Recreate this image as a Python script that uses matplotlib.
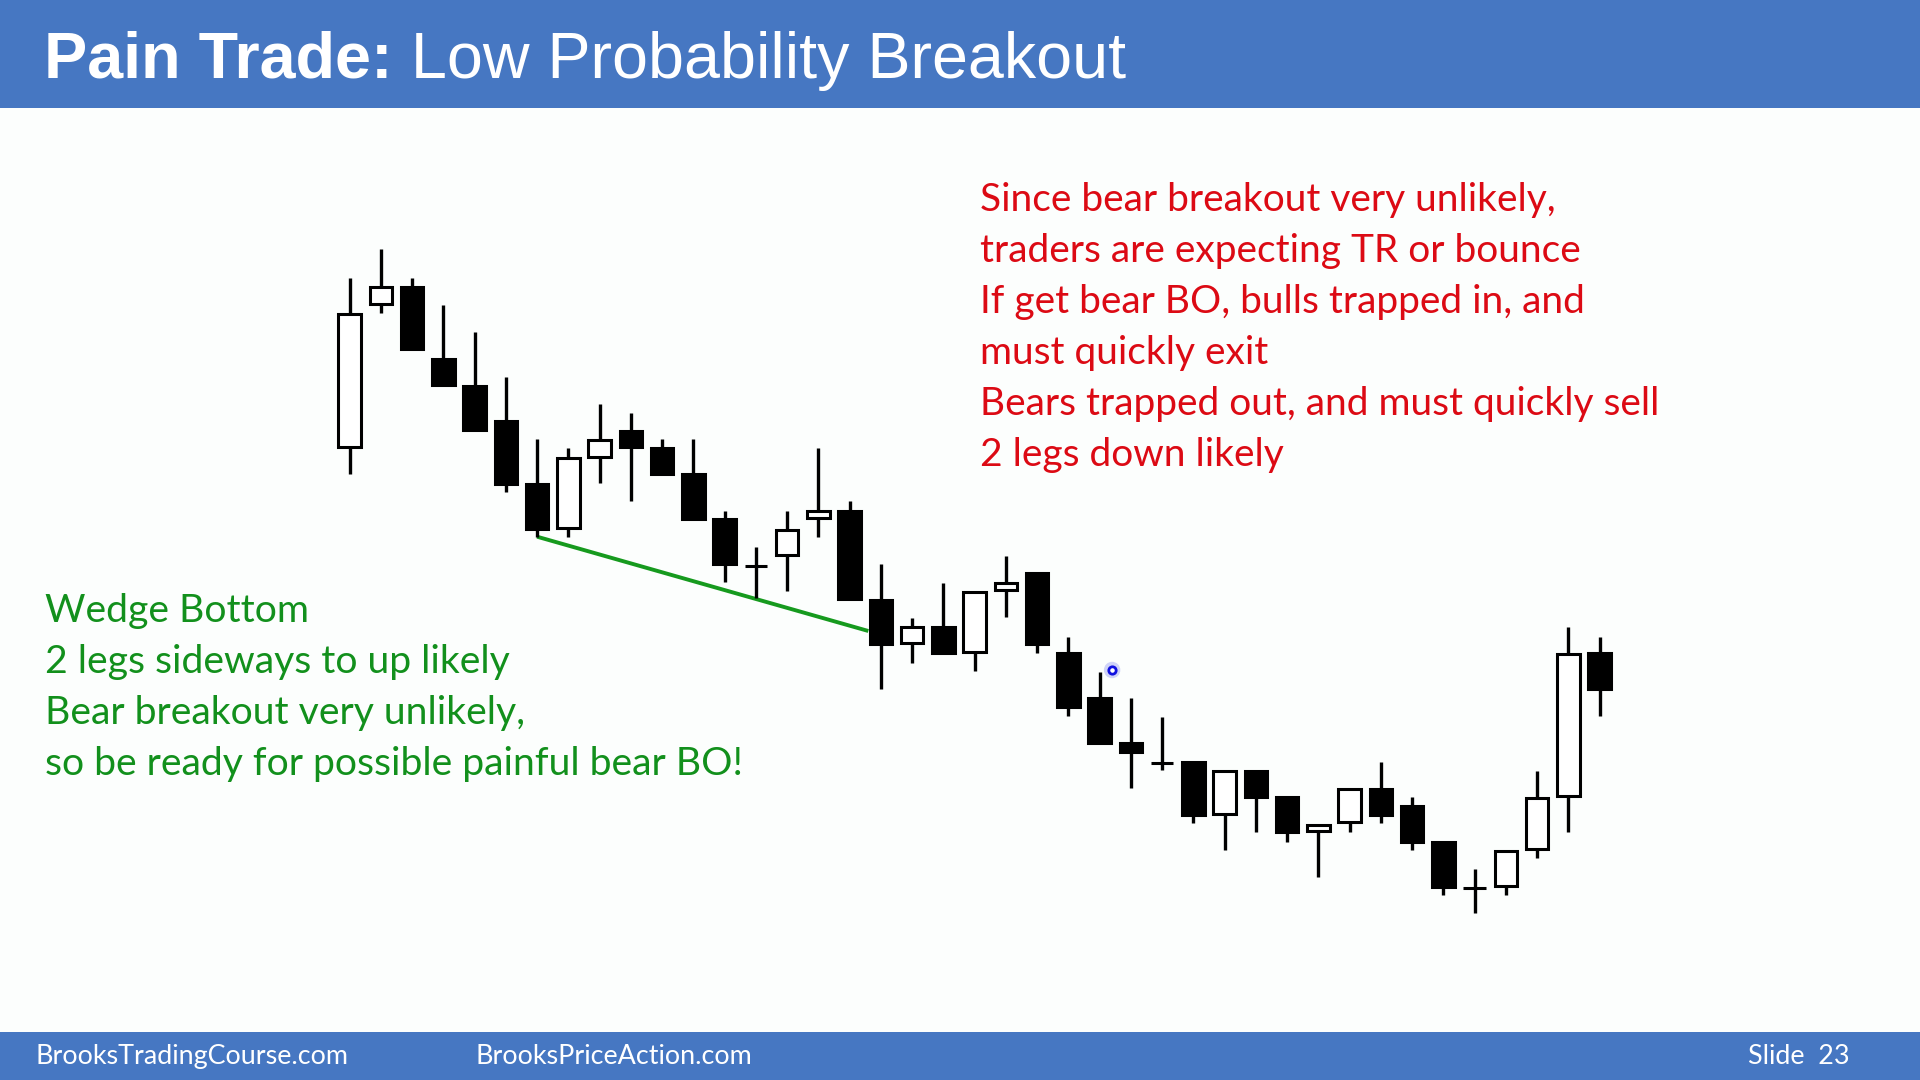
import matplotlib.pyplot as plt
from matplotlib.patches import Rectangle

# candle prices (arbitrary price units)
opens = [553.3, 696.0, 712.7, 641.0, 614.3, 579.0, 515.7, 472.3, 543.3, 569.3,
         552.3, 525.7, 480.7, 434.3, 445.0, 481.5, 489.3, 400.0, 357.3, 373.3,
         348.3, 410.0, 426.7, 346.7, 301.7, 256.7, 237.0, 237.7, 186.0, 229.3,
         202.7, 169.0, 177.7, 211.0, 194.3, 157.7, 111.7, 114.0, 151.0, 204.3,
         346.7]
highs = [721.7, 751.0, 721.7, 694.7, 668.0, 623.0, 560.7, 552.3, 596.3, 587.3,
         560.7, 560.7, 489.0, 453.3, 489.3, 552.3, 499.0, 435.7, 381.7, 417.3,
         408.3, 444.0, 426.7, 363.3, 328.3, 301.7, 283.3, 237.7, 229.0, 229.3,
         202.7, 175.3, 210.7, 238.0, 202.7, 157.7, 130.7, 149.0, 229.3, 373.3,
         363.3]
lows = [526.0, 686.7, 650.7, 615.0, 570.0, 507.7, 463.3, 463.3, 516.7, 499.3,
        526.0, 481.0, 418.3, 401.7, 409.3, 463.0, 401.0, 310.7, 337.3, 347.3,
        329.0, 382.7, 347.3, 284.0, 256.7, 211.7, 230.0, 176.7, 150.0, 168.3,
        158.3, 123.3, 168.3, 176.7, 150.0, 105.0, 86.7, 105.0, 141.7, 168.3,
        284.0]
closes = [685.7, 712.7, 650.7, 615.0, 570.0, 516.0, 471.0, 542.0, 560.3, 552.7,
          526.0, 481.0, 436.0, 434.3, 470.0, 488.5, 401.0, 355.7, 372.7, 347.3,
          408.3, 416.7, 355.7, 292.7, 256.7, 248.3, 237.0, 185.0, 229.0, 203.3,
          168.3, 175.3, 210.7, 185.0, 158.3, 113.3, 111.7, 149.0, 202.0, 346.0,
          310.7]

# wedge bottom trend line (bar index, price)
wedge_x = [6.0, 16.6]
wedge_y = [463.3, 369.0]

# presenter's pointer on the slide
pointer_x = 24.4
pointer_y = 330.0

title_bold = "Pain Trade:"
title_rest = " Low Probability Breakout"

red_notes = ["Since bear breakout very unlikely,",
             "traders are expecting TR or bounce",
             "If get bear BO, bulls trapped in, and",
             "must quickly exit",
             "Bears trapped out, and must quickly sell",
             "2 legs down likely"]
green_notes = ["Wedge Bottom",
               "2 legs sideways to up likely",
               "Bear breakout very unlikely,",
               "so be ready for possible painful bear BO!"]

footer_left = "BrooksTradingCourse.com"
footer_mid = "BrooksPriceAction.com"
footer_right = "Slide  23"

BLUE = "#4677C2"
RED = "#DC0A14"
GREEN = "#12901C"
W, H = 1920, 1080

fig = plt.figure(figsize=(19.2, 10.8), dpi=100, facecolor="#FCFEFD")

# header and footer bands
fig.patches.append(Rectangle((0, 1 - 108 / H), 1, 108 / H, transform=fig.transFigure,
                             facecolor=BLUE, edgecolor="none", zorder=0))
fig.patches.append(Rectangle((0, 0), 1, 48 / H, transform=fig.transFigure,
                             facecolor=BLUE, edgecolor="none", zorder=0))

# title: bold part then regular part right after it
t1 = fig.text(44 / W, 1 - 78 / H, title_bold, color="white", fontsize=46.5,
              fontweight="bold", family="Liberation Sans", va="baseline")
renderer = fig.canvas.get_renderer()
bb = t1.get_window_extent(renderer)
fig.text(bb.x1 / W, 1 - 78 / H, title_rest, color="white", fontsize=46.5,
         family="Liberation Sans", va="baseline")

# candle chart
ax = fig.add_axes([318.35 / W, 140 / H, 1312.5 / W, 710 / H])
ax.set_xlim(-1, 41)
ax.set_ylim(60, 770)
ax.axis("off")

idx = list(range(len(opens)))
ax.vlines(idx, lows, highs, color="black", linewidth=2.4, zorder=1)
bottoms = [min(o, c) for o, c in zip(opens, closes)]
heights = [abs(c - o) for o, c in zip(opens, closes)]
faces = ["white" if c >= o else "black" for o, c in zip(opens, closes)]
ax.bar(idx, heights, bottom=bottoms, width=0.72, color=faces,
       edgecolor="black", linewidth=2.2, zorder=2)

ax.plot(wedge_x, wedge_y, color="#169A1E", linewidth=2.8, zorder=0,
        solid_capstyle="butt")

ax.scatter([pointer_x], [pointer_y], s=140, color="#9AA0F0", alpha=0.45,
           edgecolors="none", zorder=3)
ax.scatter([pointer_x], [pointer_y], s=28, facecolors="white",
           edgecolors="#1010E0", linewidths=2.0, zorder=4)

# notes
for i, line in enumerate(red_notes):
    fig.text(980 / W, 1 - (211 + 51 * i) / H, line, color=RED, fontsize=28,
             family="Lato", va="baseline")
for i, line in enumerate(green_notes):
    fig.text(45 / W, 1 - (622 + 51 * i) / H, line, color=GREEN, fontsize=28.2,
             family="Lato", va="baseline")

fig.text(35 / W, 1 - 1064 / H, footer_left, color="white", fontsize=19.4,
         family="Lato", va="baseline")
fig.text(475 / W, 1 - 1064 / H, footer_mid, color="white", fontsize=19.4,
         family="Lato", va="baseline")
fig.text(1850 / W, 1 - 1064 / H, footer_right, color="white", fontsize=19.4,
         family="Lato", va="baseline", ha="right")

fig.savefig("out.png", dpi=100, facecolor=fig.get_facecolor())
